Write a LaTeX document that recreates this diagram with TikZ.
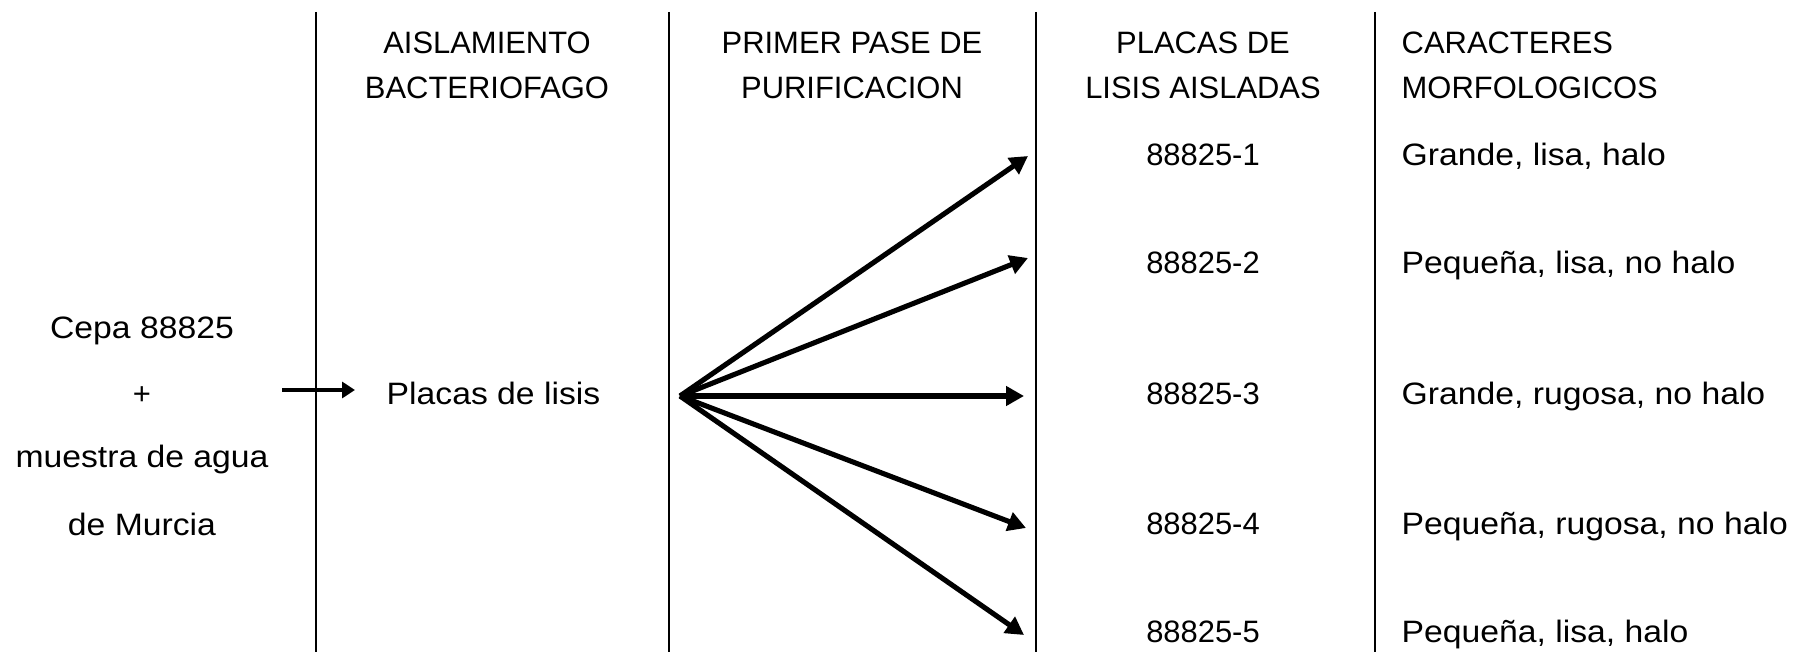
\documentclass[tikz,border=0pt]{standalone}
\usepackage{fontspec}
\setmainfont{Liberation Sans}
\newfontfamily\widefont{Liberation Sans}[FakeStretch=1.09]
\usetikzlibrary{arrows.meta}
\begin{document}
\begin{tikzpicture}[x=0.1mm,y=-0.1mm,
  font=\fontsize{8.8}{10}\selectfont,
  sep/.style={line width=0.6pt},
  arr/.style={line width=1.45pt,-{Triangle[length=1.8mm,width=1.9mm]}},
  sarr/.style={line width=1.1pt,-{Triangle[length=1.3mm,width=1.6mm]}},
  hd/.style={inner sep=0pt,anchor=base},
  hdl/.style={inner sep=0pt,anchor=base west},
  txt/.style={inner sep=0pt,anchor=base,font=\fontsize{8.8}{10}\selectfont\widefont},
  txtl/.style={inner sep=0pt,anchor=base west,font=\fontsize{8.8}{10}\selectfont\widefont},
  num/.style={inner sep=0pt,anchor=base}
]
\useasboundingbox (0,0) rectangle (1820,652);

% column separators
\draw[sep] (316,12) -- (316,652);
\draw[sep] (669,12) -- (669,652);
\draw[sep] (1036,12) -- (1036,652);
\draw[sep] (1375,12) -- (1375,652);

% headers
\node[hd] (h1a) at (487,54) {AISLAMIENTO};
\node[hd] (h1b) at (487,99) {BACTERIOFAGO};
\node[hd] (h2a) at (852,54) {PRIMER PASE DE};
\node[hd] (h2b) at (852,99) {PURIFICACION};
\node[hd] (h3a) at (1203,54) {PLACAS DE};
\node[hd] (h3b) at (1203,99) {LISIS AISLADAS};
\node[hdl] (h4a) at (1401,54) {CARACTERES};
\node[hdl] (h4b) at (1401,99) {MORFOLOGICOS};

% left column
\node[txt] (c1) at (142,338) {Cepa 88825};
\node[inner sep=0pt] (plus) at (142,396) {+};
\node[txt] (c2) at (142,467) {muestra de agua};
\node[txt] (c3) at (142,535) {de Murcia};

\coordinate (s0) at (282,390);
\node[txtl] (pl) at (386,404) {Placas de lisis};
\coordinate (s1) at (355,390);
\draw[sarr] (s0) -- (s1);

% fan of arrows
\coordinate (o) at (680,396);
\coordinate (t1) at (1028,156);
\coordinate (t2) at (1028,258);
\coordinate (t3) at (1024,396);
\coordinate (t4) at (1026,528);
\coordinate (t5) at (1024,635);
\foreach \t in {t1,t2,t3,t4,t5} \draw[arr] (o) -- (\t);

% isolated plaques
\node[num] (n1) at (1203,166) {88825-1};
\node[num] (n2) at (1203,273) {88825-2};
\node[num] (n3) at (1203,404) {88825-3};
\node[num] (n4) at (1203,534) {88825-4};
\node[num] (n5) at (1203,642) {88825-5};

% morphology
\node[txtl] (m1) at (1401,166) {Grande, lisa, halo};
\node[txtl] (m2) at (1401,273) {Pequeña, lisa, no halo};
\node[txtl] (m3) at (1401,404) {Grande, rugosa, no halo};
\node[txtl] (m4) at (1401,534) {Pequeña, rugosa, no halo};
\node[txtl] (m5) at (1401,642) {Pequeña, lisa, halo};
\end{tikzpicture}
\end{document}
